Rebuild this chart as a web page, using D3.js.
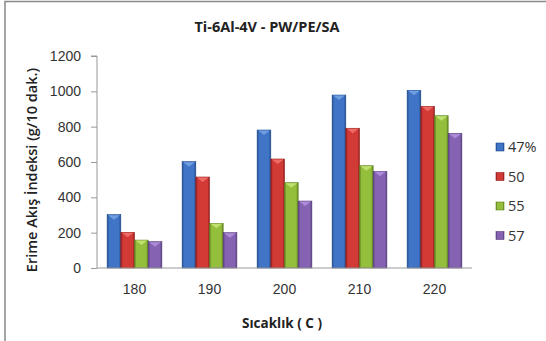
<!DOCTYPE html>
<html>
<head>
<meta charset="utf-8">
<script src="https://cdn.jsdelivr.net/npm/d3@7"></script>
<style>
  body { margin: 0; background: #fff; }
  svg { display: block; font-family: "Open Sans", "Noto Sans", sans-serif; }
</style>
</head>
<body>
<svg id="chart" width="546" height="341"></svg>
<script>
const categories = ["180", "190", "200", "210", "220"];
const seriesNames = ["47%", "50", "55", "57"];
const s47 = [302, 602, 781, 979, 1006];
const s50 = [202, 515, 617, 791, 915];
const s55 = [158, 253, 483, 579, 862];
const s57 = [149, 200, 379, 547, 762];
const yTicks = [0, 200, 400, 600, 800, 1000, 1200];

const seriesValues = [s47, s50, s55, s57];
const colors = [
  { base: "#3f74c6", dark: "#1f4a8c", light: "#6f9de0" },
  { base: "#d23a36", dark: "#8e1d1b", light: "#ee6a66" },
  { base: "#93bf3c", dark: "#5f7f20", light: "#bfe06e" },
  { base: "#8663b2", dark: "#553c7c", light: "#ac8ad6" },
];

const svg = d3.select("#chart");
const defs = svg.append("defs");

colors.forEach((c, i) => {
  const g = defs.append("linearGradient")
    .attr("id", "grad" + i)
    .attr("x1", "0%").attr("x2", "100%").attr("y1", "0%").attr("y2", "0%");
  g.append("stop").attr("offset", "0%").attr("stop-color", c.dark);
  g.append("stop").attr("offset", "15%").attr("stop-color", c.base);
  g.append("stop").attr("offset", "50%").attr("stop-color", c.base);
  g.append("stop").attr("offset", "85%").attr("stop-color", c.base);
  g.append("stop").attr("offset", "100%").attr("stop-color", c.dark);
});

// chart border
svg.append("rect")
  .attr("x", 5).attr("y", 1.5)
  .attr("width", 560).attr("height", 360)
  .attr("fill", "none")
  .attr("stroke", "#888")
  .attr("stroke-width", 1.5);

const margin = { left: 97, right: 74, top: 56, bottom: 73 };
const x0 = d3.scaleBand()
  .domain(categories)
  .range([margin.left, 546 - margin.right])
  .paddingInner(0.27)
  .paddingOuter(0.135);
const x1 = d3.scaleBand()
  .domain(d3.range(seriesNames.length))
  .range([0, x0.bandwidth()]);
const y = d3.scaleLinear()
  .domain([0, 1200])
  .range([341 - margin.bottom, margin.top]);

// y axis
const yAxis = svg.append("g")
  .attr("transform", `translate(${margin.left},0)`)
  .call(d3.axisLeft(y).tickValues(yTicks).tickFormat(d3.format("d")).tickSize(6).tickPadding(10));
yAxis.select(".domain").attr("stroke", "#999").attr("d", `M-6,${y(1200)}H0V${y(0)}`);
yAxis.selectAll(".tick line").attr("stroke", "#999");
yAxis.selectAll(".tick text")
  .attr("font-size", 14)
  .attr("fill", "#333");

// bars
const groups = svg.append("g")
  .selectAll("g")
  .data(categories)
  .join("g")
  .attr("transform", (d) => `translate(${x0(d)},0)`);

groups.selectAll("rect")
  .data((d, i) => seriesValues.map((s, k) => ({ k: k, v: s[i] })))
  .join("rect")
  .attr("x", (d) => x1(d.k))
  .attr("y", (d) => y(d.v))
  .attr("width", x1.bandwidth())
  .attr("height", (d) => y(0) - y(d.v))
  .attr("fill", (d) => `url(#grad${d.k})`)
  .attr("stroke", (d) => colors[d.k].dark)
  .attr("stroke-width", 0.6);

// top highlight triangle
groups.selectAll("path.hl")
  .data((d, i) => seriesValues.map((s, k) => ({ k: k, v: s[i] })))
  .join("path")
  .attr("class", "hl")
  .attr("d", (d) => {
    const bx = x1(d.k), bw = x1.bandwidth(), by = y(d.v);
    return `M${bx + 1},${by + 0.5}L${bx + bw - 1},${by + 0.5}L${bx + bw / 2},${by + 5}Z`;
  })
  .attr("fill", (d) => colors[d.k].light);

// x axis
const xAxis = svg.append("g")
  .attr("transform", `translate(0,${y(0)})`)
  .call(d3.axisBottom(x0).tickSize(0).tickPadding(16));
xAxis.select(".domain").attr("stroke", "#999").attr("d", `M${margin.left},0H${546 - margin.right}`);
xAxis.selectAll(".tick text")
  .attr("font-size", 14)
  .attr("fill", "#333");

// title
svg.append("text")
  .attr("x", 267).attr("y", 32)
  .attr("text-anchor", "middle")
  .attr("font-size", 14.5)
  .attr("font-weight", "bold")
  .attr("fill", "#222")
  .text("Ti-6Al-4V - PW/PE/SA");

// axis titles
svg.append("text")
  .attr("transform", "translate(37,170) rotate(-90)")
  .attr("text-anchor", "middle")
  .attr("font-size", 14.5)
  .attr("font-weight", 600)
  .attr("fill", "#222")
  .text("Erime Akış İndeksi (g/10 dak.)");

svg.append("text")
  .attr("x", 282).attr("y", 328)
  .attr("text-anchor", "middle")
  .attr("font-size", 13.5)
  .attr("font-weight", "bold")
  .attr("fill", "#222")
  .text("Sıcaklık ( C )");

// legend
const legend = svg.append("g")
  .selectAll("g")
  .data(seriesNames)
  .join("g")
  .attr("transform", (d, i) => `translate(496,${147 + i * 29.5})`);
legend.append("rect")
  .attr("x", 0).attr("y", -4)
  .attr("width", 8).attr("height", 8)
  .attr("fill", (d, i) => `url(#grad${i})`)
  .attr("stroke", (d, i) => colors[i].dark)
  .attr("stroke-width", 0.6);
legend.append("text")
  .attr("x", 12).attr("y", 0)
  .attr("dy", "0.35em")
  .attr("font-size", 14.5)
  .attr("fill", "#333")
  .text((d) => d);
</script>
</body>
</html>
